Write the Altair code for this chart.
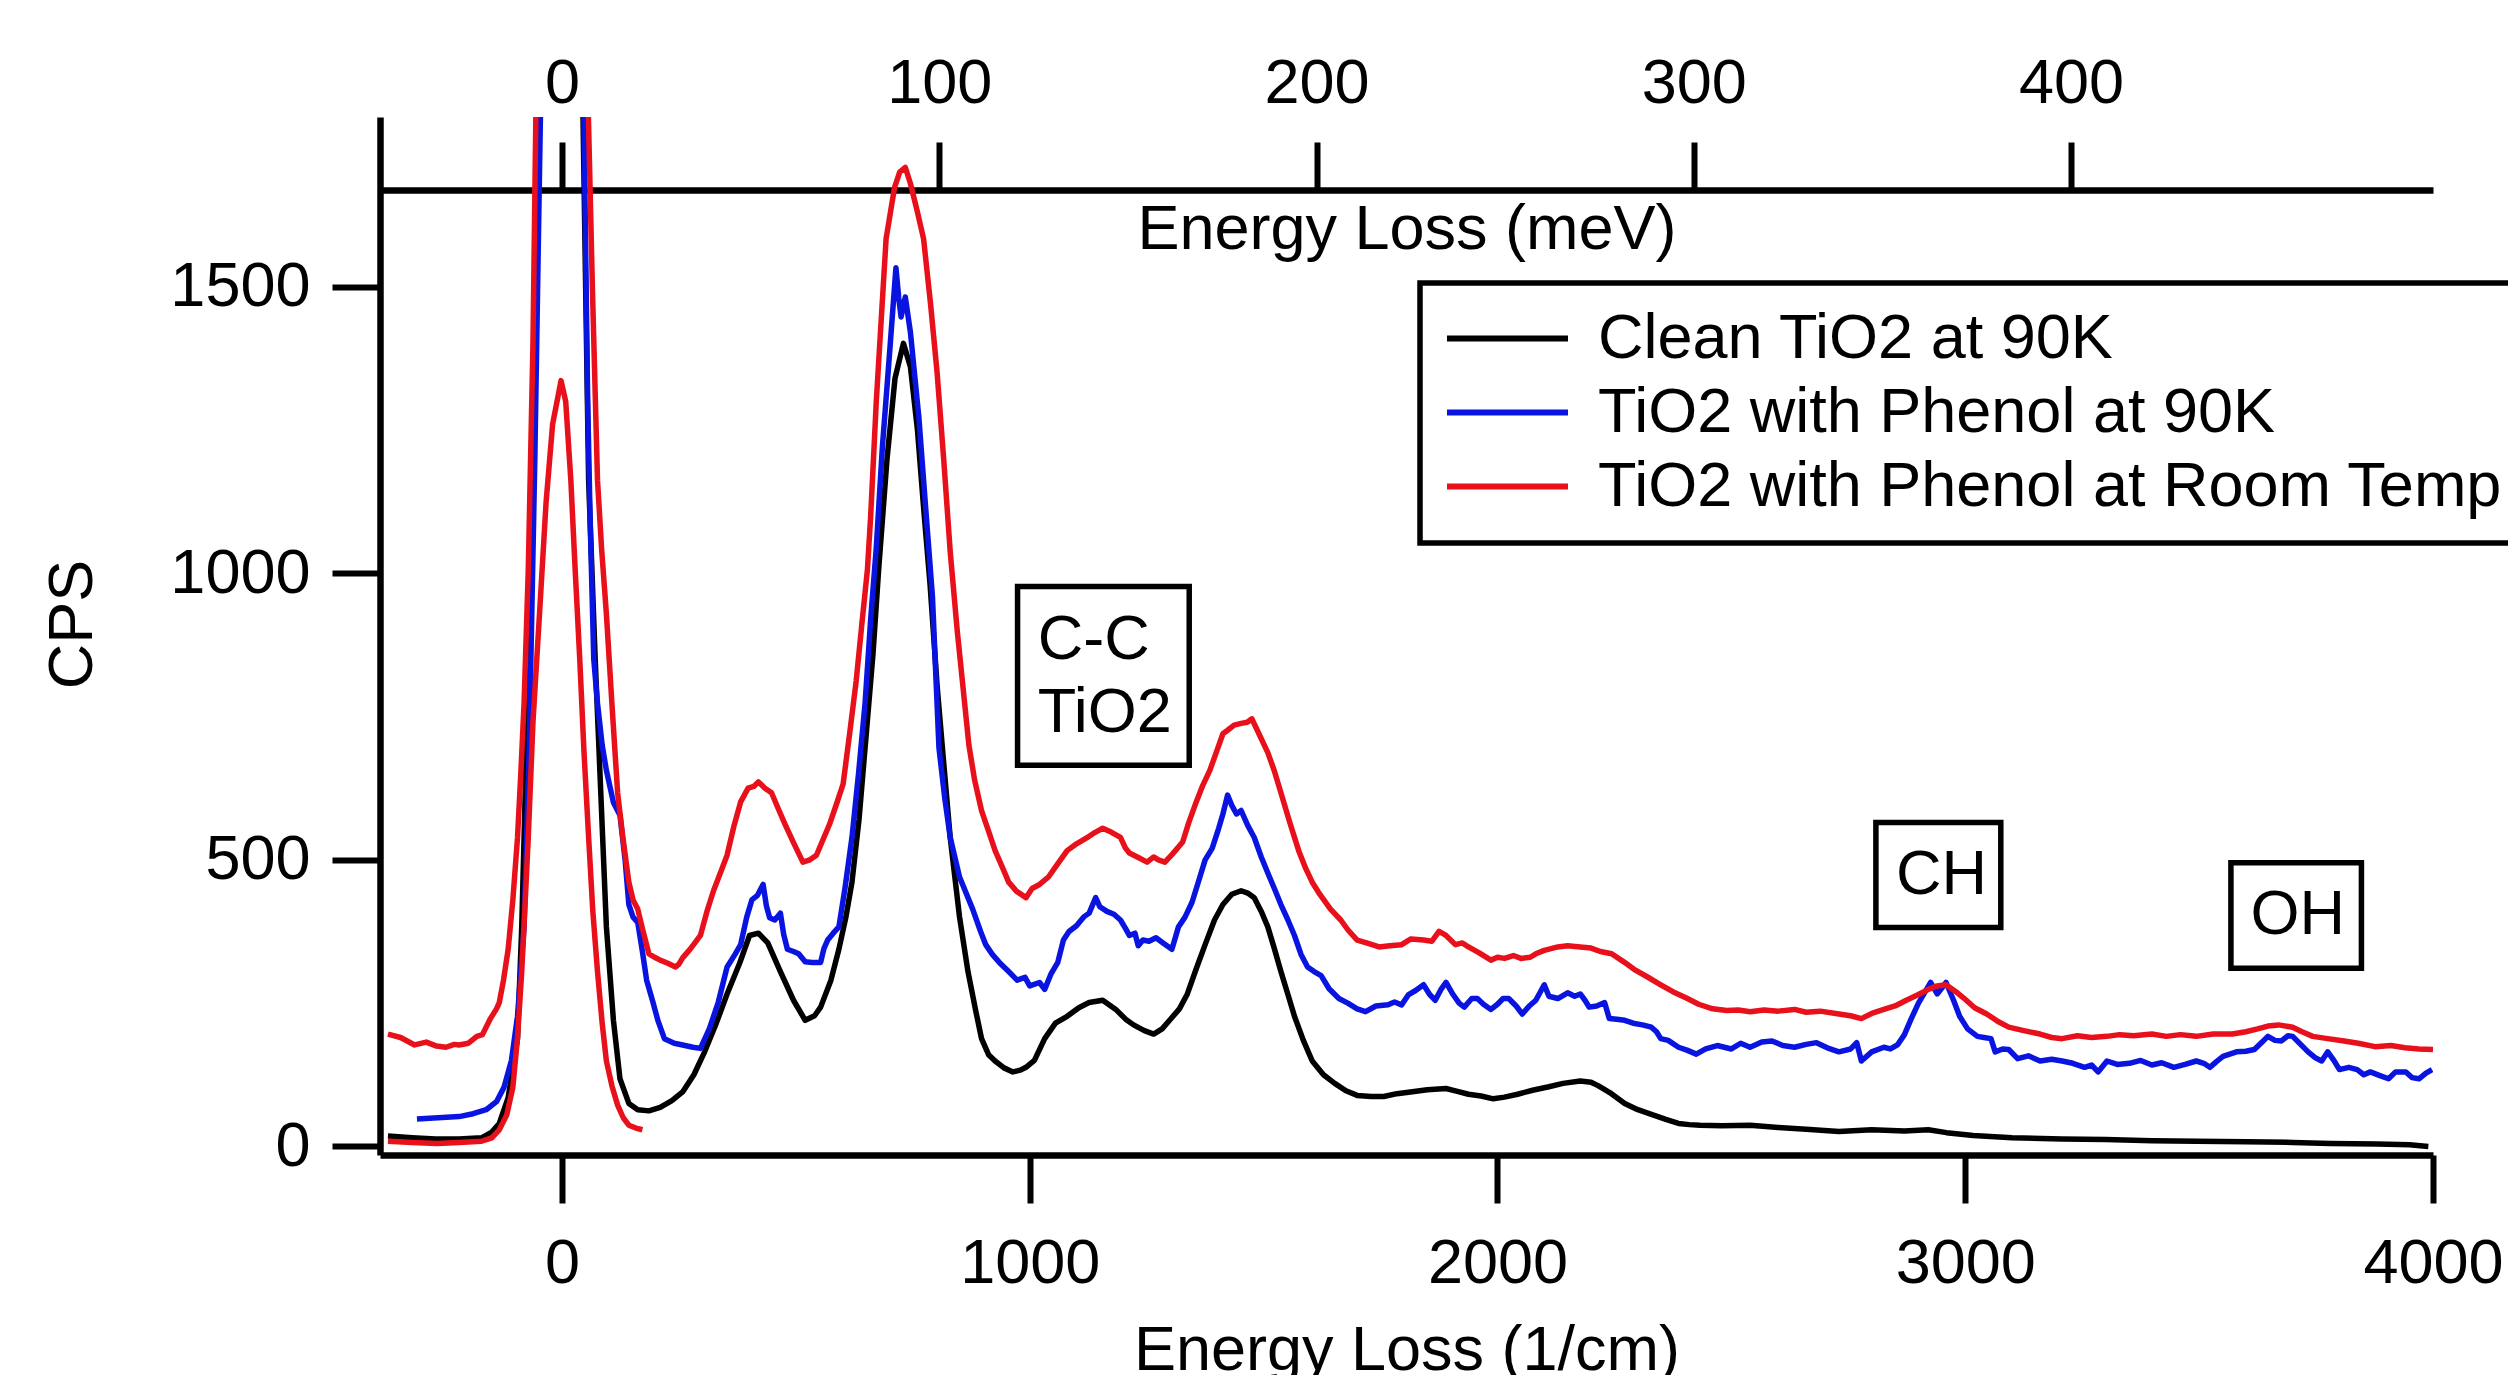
import altair as alt
import pandas as pd

FONT = "Liberation Sans"
CM_PER_MEV = 8.0655
X_MIN, X_MAX = -389, 4000
Y_MIN, Y_MAX = -15, 1796

series_names = ["Clean TiO2 at 90K", "TiO2 with Phenol at 90K", "TiO2 with Phenol at Room Temp"]
series_colors = ["#000000", "#0a14e0", "#e8101a"]

clean_x = [-372, -320, -270, -220, -172, -150, -134, -115, -95, -86, -76, -62, -47, 0, 44, 57, 71, 95, 110, 124,
           143, 162, 186, 210, 235, 258, 282, 305, 330, 353, 380, 401, 420, 440, 467, 495, 520, 540, 553, 575,
           592, 607, 620, 635, 648, 665, 677, 695, 712, 730, 745, 760, 773, 787, 802, 816, 830, 850, 868, 885,
           897, 912, 926, 945, 964, 980, 992, 1010, 1032, 1055, 1080, 1105, 1127, 1156, 1184, 1205, 1222, 1245, 1265, 1283,
           1299, 1320, 1337, 1356, 1375, 1395, 1413, 1432, 1452, 1466, 1480, 1495, 1509, 1523, 1537, 1552, 1566, 1585, 1604, 1628,
           1652, 1676, 1700, 1730, 1757, 1785, 1814, 1850, 1890, 1910, 1938, 1965, 1991, 2015, 2043, 2075, 2110, 2140, 2177, 2200,
           2215, 2240, 2272, 2300, 2329, 2360, 2387, 2410, 2433, 2480, 2540, 2600, 2660, 2730, 2800, 2870, 2921, 2960, 3017, 3100,
           3207, 3300, 3400, 3494, 3600, 3700, 3781, 3880, 3950, 3990]
clean_y = [18, 15, 13, 13, 15, 25, 40, 85, 188, 383, 695, 1150, 1850, 3000, 1850, 1162, 851, 383, 220, 118,
           75, 64, 62, 68, 80, 95, 125, 165, 215, 266, 320, 368, 372, 355, 305, 255, 220, 228, 243, 290,
           344, 400, 461, 570, 695, 860, 1006, 1200, 1340, 1401, 1360, 1250, 1116, 980, 804, 670, 539, 400, 305, 235,
           188, 160, 149, 137, 130, 133, 138, 150, 188, 215, 227, 242, 251, 255, 239, 222, 212, 202, 196, 205,
           220, 240, 266, 310, 352, 395, 422, 440, 446, 442, 434, 410, 383, 345, 305, 265, 227, 185, 149, 125,
           110, 97, 89, 87, 87, 92, 95, 99, 101, 97, 91, 88, 83, 86, 91, 98, 104, 110, 114, 112,
           106, 94, 75, 64, 56, 47, 40, 38, 37, 36, 37, 33, 30, 26, 29, 27, 29, 24, 19, 15,
           13, 12, 10, 9, 8, 7, 5, 4, 3, 0]

phenol_x = [-310, -265, -220, -190, -162, -140, -124, -108, -95, -81, -70, -58, -45, 0, 46, 55, 60, 68, 76, 86,
            95, 110, 124, 135, 143, 152, 162, 172, 181, 195, 205, 219, 240, 258, 280, 296, 315, 334, 353, 370,
            382, 395, 406, 418, 430, 437, 444, 455, 467, 474, 482, 495, 506, 520, 535, 553, 560, 568, 580, 592,
            605, 620, 634, 648, 660, 672, 685, 700, 714, 720, 725, 734, 745, 763, 777, 792, 806, 818, 830, 850,
            878, 895, 906, 920, 935, 955, 973, 990, 1000, 1021, 1032, 1045, 1060, 1072, 1084, 1100, 1115, 1127, 1141, 1150,
            1165, 1180, 1194, 1205, 1213, 1225, 1232, 1242, 1255, 1270, 1285, 1304, 1318, 1332, 1347, 1360, 1375, 1390, 1404, 1413,
            1423, 1432, 1442, 1452, 1466, 1480, 1495, 1509, 1523, 1537, 1552, 1566, 1580, 1594, 1608, 1623, 1640, 1661, 1680, 1700,
            1718, 1740, 1766, 1780, 1795, 1810, 1825, 1842, 1855, 1867, 1880, 1890, 1905, 1918, 1929, 1945, 1957, 1970, 1986, 2000,
            2012, 2024, 2040, 2053, 2068, 2082, 2100, 2110, 2129, 2150, 2165, 2177, 2187, 2196, 2212, 2229, 2239, 2255, 2272, 2290,
            2310, 2329, 2340, 2349, 2365, 2387, 2405, 2425, 2445, 2470, 2500, 2520, 2540, 2565, 2587, 2610, 2635, 2660, 2682, 2705,
            2730, 2755, 2768, 2778, 2800, 2826, 2840, 2855, 2870, 2883, 2900, 2926, 2940, 2959, 2975, 2988, 3005, 3026, 3040, 3055,
            3064, 3080, 3093, 3112, 3135, 3160, 3185, 3207, 3230, 3255, 3270, 3284, 3303, 3325, 3351, 3375, 3399, 3420, 3446, 3470,
            3494, 3510, 3523, 3537, 3551, 3580, 3600, 3618, 3632, 3647, 3662, 3676, 3690, 3700, 3717, 3733, 3748, 3762, 3775, 3788,
            3800, 3820, 3838, 3852, 3866, 3885, 3905, 3920, 3942, 3955, 3970, 3985, 3998]
phenol_y = [48, 50, 52, 57, 64, 78, 103, 150, 227, 383, 700, 1200, 1850, 3000, 1850, 1300, 1100, 850, 773, 700,
            656, 600, 578, 500, 422, 400, 391, 340, 290, 250, 220, 188, 180, 177, 173, 171, 205, 251, 313, 335,
            352, 400, 430, 438, 457, 420, 399, 395, 407, 370, 344, 340, 336, 322, 321, 321, 345, 360, 372, 383,
            450, 539, 650, 773, 920, 1045, 1220, 1380, 1533, 1480, 1447, 1482, 1420, 1272, 1120, 960, 695, 610, 539, 470,
            414, 375, 352, 335, 321, 305, 290, 295, 280, 286, 274, 300, 321, 360, 375, 385, 400, 407, 434, 418,
            410, 405, 395, 380, 368, 372, 350, 360, 358, 364, 355, 344, 383, 400, 426, 460, 500, 520, 555, 580,
            613, 595, 580, 586, 560, 539, 505, 477, 450, 422, 395, 368, 335, 313, 305, 298, 275, 258, 250, 240,
            235, 245, 247, 252, 247, 265, 272, 282, 265, 255, 275, 286, 265, 250, 243, 258, 258, 248, 239, 248,
            258, 258, 245, 231, 245, 255, 282, 262, 258, 268, 262, 266, 255, 243, 245, 251, 223, 222, 220, 215,
            212, 208, 200, 188, 185, 173, 168, 161, 170, 176, 170, 180, 173, 182, 184, 176, 173, 178, 181, 172,
            165, 170, 181, 149, 165, 173, 170, 177, 195, 220, 250, 286, 266, 286, 255, 227, 205, 192, 190, 188,
            165, 170, 169, 153, 158, 149, 152, 149, 145, 138, 142, 130, 149, 143, 145, 150, 142, 146, 138, 143,
            149, 145, 138, 148, 157, 165, 166, 169, 180, 192, 185, 184, 193, 192, 178, 165, 155, 149, 165, 150,
            134, 138, 134, 125, 130, 124, 118, 130, 130, 120, 118, 128, 134]

rt_x = [-372, -345, -315, -290, -268, -248, -230, -220, -200, -182, -170, -153, -140, -134, -125, -115, -105, -95, -88, -81,
        -72, -62, -55, 0, 55, 65, 76, 85, 95, 107, 119, 130, 143, 152, 162, 172, 186, 198, 210, 225,
        243, 250, 258, 275, 296, 310, 324, 340, 353, 368, 382, 398, 410, 420, 434, 448, 462, 477, 495, 515,
        530, 544, 558, 572, 588, 601, 615, 629, 641, 653, 660, 672, 693, 711, 722, 734, 745, 760, 773, 788,
        802, 816, 830, 845, 857, 870, 882, 897, 912, 926, 940, 955, 972, 992, 1005, 1021, 1040, 1059, 1080, 1100,
        1127, 1140, 1156, 1175, 1194, 1205, 1213, 1230, 1251, 1265, 1275, 1289, 1305, 1327, 1340, 1356, 1370, 1385, 1400, 1413,
        1423, 1437, 1452, 1465, 1475, 1490, 1509, 1523, 1537, 1556, 1575, 1590, 1604, 1620, 1643, 1665, 1680, 1700, 1720, 1747,
        1770, 1795, 1815, 1842, 1860, 1875, 1890, 1910, 1925, 1938, 1960, 1986, 2000, 2015, 2034, 2050, 2070, 2082, 2100, 2129,
        2150, 2177, 2200, 2220, 2244, 2270, 2292, 2320, 2349, 2375, 2406, 2430, 2460, 2490, 2515, 2540, 2570, 2600, 2635, 2660,
        2690, 2730, 2755, 2778, 2800, 2826, 2850, 2874, 2900, 2921, 2940, 2959, 2980, 2998, 3020, 3046, 3070, 3093, 3125, 3160,
        3185, 3207, 3240, 3270, 3303, 3330, 3360, 3399, 3430, 3460, 3494, 3530, 3571, 3600, 3625, 3647, 3670, 3700, 3720, 3743,
        3775, 3810, 3840, 3876, 3910, 3940, 3970, 4000]
rt_y = [196, 190, 177, 182, 175, 173, 178, 177, 180, 192, 195, 223, 240, 251, 290, 344, 430, 539, 650, 773,
        1006, 1400, 1850, 2800, 1850, 1500, 1162, 1040, 929, 770, 617, 540, 461, 430, 414, 380, 336, 330, 325, 320,
        313, 318, 329, 345, 368, 410, 446, 480, 508, 560, 601, 625, 628, 636, 625, 617, 590, 562, 530, 496,
        500, 508, 535, 562, 600, 632, 720, 812, 910, 1006, 1100, 1300, 1584, 1673, 1700, 1708, 1680, 1630, 1584, 1470,
        1350, 1200, 1038, 900, 804, 700, 640, 586, 550, 516, 490, 461, 445, 434, 450, 457, 470, 492, 516, 528,
        541, 548, 555, 548, 539, 520, 512, 505, 496, 505, 500, 496, 510, 531, 565, 601, 630, 656, 690, 720,
        726, 735, 738, 740, 746, 720, 687, 655, 617, 565, 516, 485, 461, 440, 414, 395, 378, 360, 355, 348,
        350, 352, 362, 360, 358, 375, 368, 352, 355, 348, 338, 325, 330, 328, 333, 328, 330, 336, 342, 348,
        350, 348, 346, 340, 336, 322, 309, 296, 282, 270, 258, 248, 240, 237, 238, 235, 238, 236, 239, 234,
        236, 231, 228, 223, 232, 239, 245, 255, 265, 274, 280, 282, 270, 258, 242, 231, 218, 208, 202, 196,
        190, 188, 193, 190, 192, 195, 193, 196, 192, 195, 192, 196, 196, 200, 205, 210, 212, 208, 200, 192,
        188, 184, 180, 174, 176, 172, 170, 169]

rt_elastic_x = [-372, -320, -267, -220, -172, -150, -134, -118, -105, -95, -86, -79, -72, -62, -48, -34, -20, -2, 8, 19,
                28, 38, 47, 57, 66, 76, 86, 95, 107, 119, 131, 143, 158, 172]
rt_elastic_y = [9, 7, 5, 7, 9, 15, 29, 55, 103, 190, 305, 420, 539, 740, 929, 1123, 1260, 1336, 1300, 1162,
                1010, 851, 690, 539, 410, 305, 215, 149, 105, 72, 50, 37, 32, 29]

mev_ticks = [0, 100, 200, 300, 400]
cm_ticks = [0, 1000, 2000, 3000, 4000]
cps_ticks = [0, 500, 1000, 1500]

ann_label = ["C-C", "TiO2", "CH", "OH"]
ann_x = [1017, 1017, 2852, 3610]
ann_y = [884, 757, 473, 403]

box_x1 = [974, 2809, 3568]
box_x2 = [1341, 3076, 3847]
box_y1 = [665, 382, 311]
box_y2 = [977, 565, 495]

traces = [
    ("clean", series_names[0], clean_x, clean_y),
    ("phenol90", series_names[1], phenol_x, phenol_y),
    ("phenolRT", series_names[2], rt_x, rt_y),
    ("phenolRT_elastic", series_names[2], rt_elastic_x, rt_elastic_y),
]
rows = []
for tid, name, xs, ys in traces:
    for i, (a, b) in enumerate(zip(xs, ys)):
        rows.append({"trace": tid, "series": name, "cm": a, "cps": b, "idx": i})
df = pd.DataFrame(rows)

ann_df = pd.DataFrame({"label": ann_label, "cm": ann_x, "cps": ann_y})
box_df = pd.DataFrame({"cm": box_x1, "cm2": box_x2, "cps": box_y1, "cps2": box_y2})
mev_df = pd.DataFrame({"mev": mev_ticks})

x_scale = alt.Scale(domain=[X_MIN, X_MAX], nice=False, zero=False)
y_scale = alt.Scale(domain=[Y_MIN, Y_MAX], nice=False, zero=False)

common_axis = dict(
    tickWidth=6, domainWidth=6.5, tickSize=48, labelFontSize=63, titleFontSize=63,
    labelFont=FONT, titleFont=FONT, titleFontWeight="normal", grid=False,
    domainColor="black", tickColor="black", labelColor="black", titleColor="black",
    labelFlush=False, labelOverlap=False, format="d",
)

x_axis = alt.Axis(values=cm_ticks, title="Energy Loss (1/cm)", labelPadding=60, labelBaseline="middle",
                  titleY=195, titleBaseline="middle", **common_axis)
y_axis = alt.Axis(values=cps_ticks, title="CPS", labelPadding=22, titleX=-308, titleY=507,
                  titleAngle=270, titleAlign="center", titleBaseline="middle", **common_axis)
top_axis = alt.Axis(orient="top", offset=-73, values=mev_ticks, title="Energy Loss (meV)",
                    labelPadding=59, labelBaseline="middle", titleY=39, titleBaseline="middle", **common_axis)

legend = alt.Legend(
    orient="none", legendX=1040, legendY=166, title=None, symbolType="stroke",
    symbolSize=14641, symbolStrokeWidth=6, labelFontSize=63, labelFont=FONT,
    labelColor="black", labelLimit=3000, strokeColor="black", fillColor="white",
    padding=24, rowPadding=10, labelOffset=27, clipHeight=63,
)

lines = alt.Chart(df).mark_line(strokeWidth=5.5, clip=True, strokeJoin="round").encode(
    x=alt.X("cm:Q", scale=x_scale, axis=x_axis),
    y=alt.Y("cps:Q", scale=y_scale, axis=y_axis),
    color=alt.Color("series:N", scale=alt.Scale(domain=series_names, range=series_colors), legend=legend),
    detail="trace:N",
    order="idx:Q",
)

boxes = alt.Chart(box_df).mark_rect(fillOpacity=0, stroke="black", strokeWidth=5.5).encode(
    x=alt.X("cm:Q", scale=x_scale, axis=x_axis),
    x2="cm2:Q",
    y=alt.Y("cps:Q", scale=y_scale, axis=y_axis),
    y2="cps2:Q",
)

texts = alt.Chart(ann_df).mark_text(align="left", baseline="middle", fontSize=63, font=FONT, color="black").encode(
    x=alt.X("cm:Q", scale=x_scale, axis=x_axis),
    y=alt.Y("cps:Q", scale=y_scale, axis=y_axis),
    text="label:N",
)

inner = alt.layer(lines, boxes, texts)

mev_layer = alt.Chart(mev_df).mark_point(opacity=0).encode(
    x=alt.X("mev:Q", scale=alt.Scale(domain=[X_MIN / CM_PER_MEV, X_MAX / CM_PER_MEV], nice=False, zero=False),
            axis=top_axis),
    y=alt.value(0),
)

chart = alt.layer(inner, mev_layer).resolve_scale(x="independent").properties(
    width=2053, height=1038, autosize="none",
    padding={"left": 372, "top": 109, "right": 75, "bottom": 220},
    background="white",
).configure_view(strokeWidth=0).configure_legend(strokeWidth=5.5)

chart.save("out.html", embed_options={"renderer": "svg", "actions": False})
